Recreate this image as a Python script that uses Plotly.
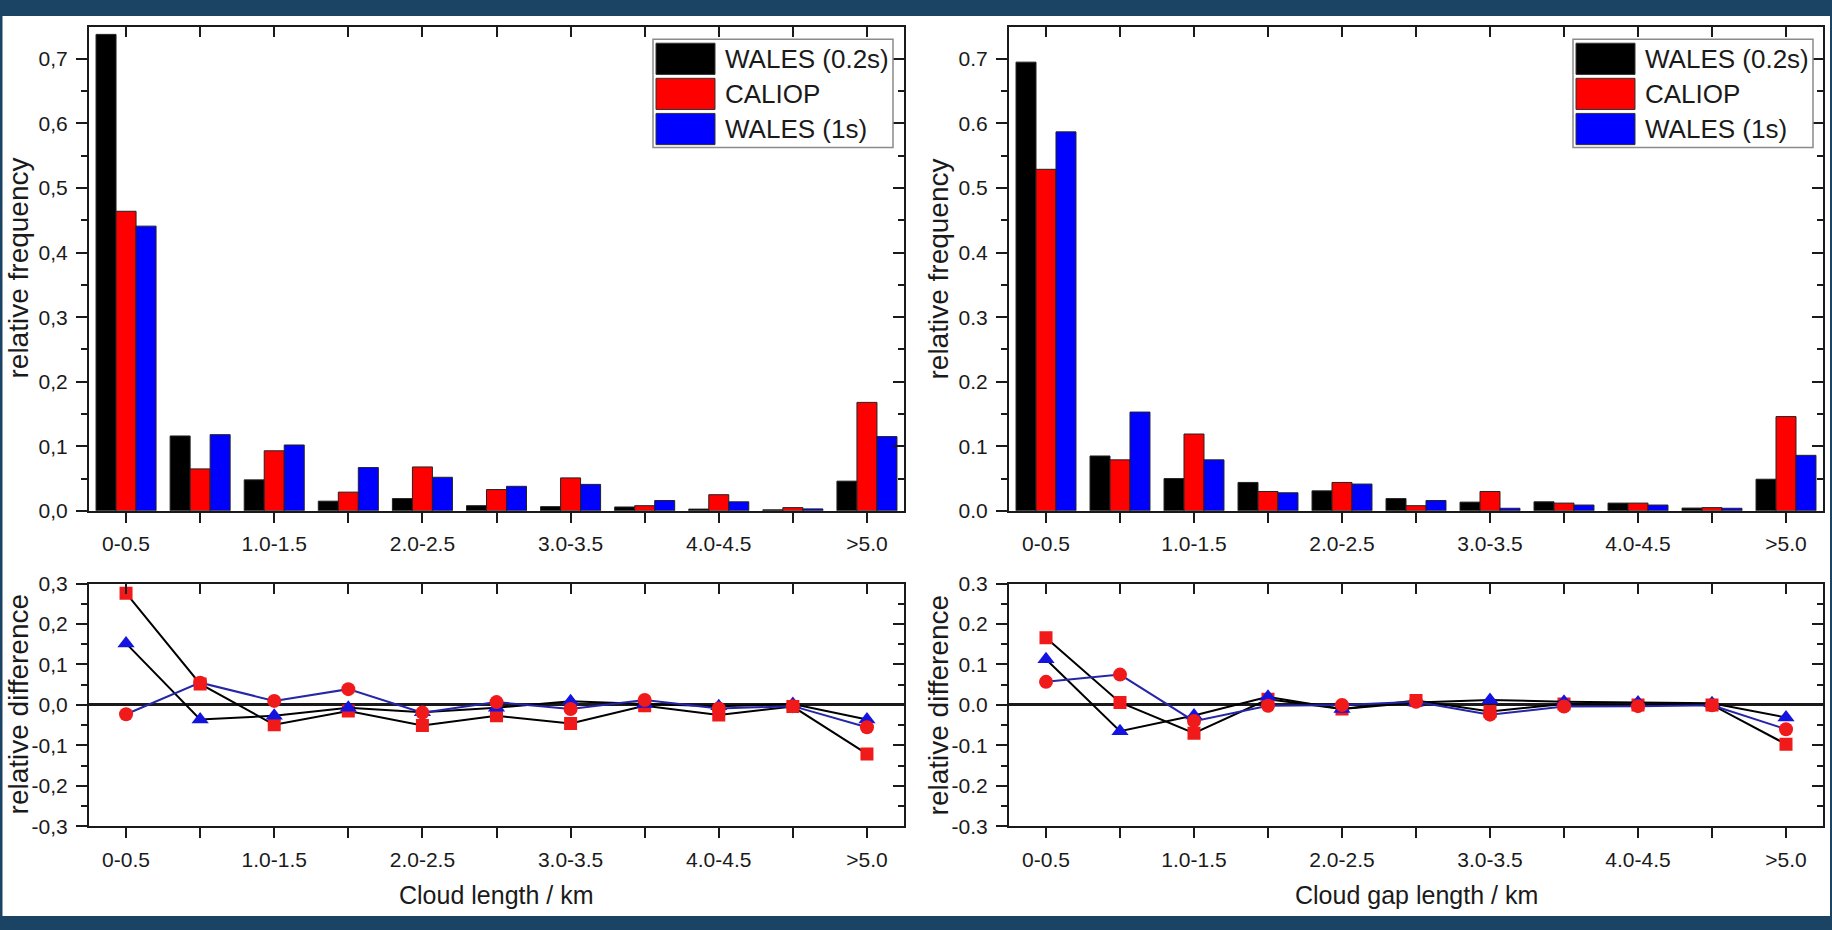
import plotly.graph_objects as go

W, H = 1832, 930
FONT = "Liberation Sans, Arial, sans-serif"
INK = "#1a1a1a"

categories = ["0-0.5", "0.5-1.0", "1.0-1.5", "1.5-2.0", "2.0-2.5", "2.5-3.0",
              "3.0-3.5", "3.5-4.0", "4.0-4.5", "4.5-5.0", ">5.0"]
cat_labels = ["0-0.5", "", "1.0-1.5", "", "2.0-2.5", "", "3.0-3.5", "", "4.0-4.5", "", ">5.0"]

series_names = ["WALES (0.2s)", "CALIOP", "WALES (1s)"]
series_colors = ["#000000", "#ff0000", "#0000ff"]

# relative frequency of cloud lengths
len_wales02 = [0.738, 0.116, 0.048, 0.015, 0.019, 0.008, 0.0065, 0.006, 0.0027, 0.0016, 0.046]
len_caliop = [0.464, 0.065, 0.093, 0.029, 0.068, 0.033, 0.051, 0.008, 0.025, 0.005, 0.168]
len_wales1 = [0.441, 0.118, 0.102, 0.067, 0.052, 0.038, 0.041, 0.016, 0.014, 0.003, 0.115]

# relative frequency of cloud gap lengths
gap_wales02 = [0.695, 0.085, 0.050, 0.044, 0.031, 0.019, 0.0135, 0.014, 0.012, 0.0043, 0.049]
gap_caliop = [0.529, 0.079, 0.119, 0.030, 0.044, 0.008, 0.030, 0.012, 0.012, 0.005, 0.146]
gap_wales1 = [0.587, 0.153, 0.079, 0.028, 0.0415, 0.016, 0.004, 0.009, 0.009, 0.004, 0.086]

# relative differences (squares, triangles, circles)
len_diff_sq = [0.276, 0.052, -0.049, -0.015, -0.051, -0.027, -0.046, -0.002, -0.025, -0.004, -0.121]
len_diff_tri = [0.152, -0.036, -0.027, -0.007, -0.018, -0.007, 0.009, 0.002, -0.003, 0.002, -0.036]
len_diff_circ = [-0.023, 0.055, 0.010, 0.039, -0.019, 0.007, -0.010, 0.012, -0.009, -0.003, -0.055]

gap_diff_sq = [0.166, 0.006, -0.070, 0.014, -0.010, 0.011, -0.016, 0.002, 0.000, 0.000, -0.097]
gap_diff_tri = [0.113, -0.065, -0.026, 0.020, -0.010, 0.006, 0.012, 0.008, 0.006, 0.004, -0.031]
gap_diff_circ = [0.057, 0.075, -0.040, -0.002, 0.000, 0.008, -0.024, -0.004, -0.003, -0.001, -0.060]

freq_ticks = [0.0, 0.1, 0.2, 0.3, 0.4, 0.5, 0.6, 0.7]
diff_ticks = [-0.3, -0.2, -0.1, 0.0, 0.1, 0.2, 0.3]


def px_x(x):
    return x / W


def px_y(y):
    return 1 - y / H


XL = [px_x(89), px_x(904)]
XR = [px_x(1009), px_x(1823)]
YU = [px_y(511.5), px_y(15)]
YD = [px_y(835), px_y(586)]

fig = go.Figure()

# histogram bars
for xa, ya, data in [("x", "y", [len_wales02, len_caliop, len_wales1]),
                     ("x2", "y2", [gap_wales02, gap_caliop, gap_wales1])]:
    for name, color, vals in zip(series_names, series_colors, data):
        fig.add_trace(go.Bar(
            x=categories, y=vals, name=name, xaxis=xa, yaxis=ya, showlegend=False,
            marker=dict(color=color, line=dict(color="#222222", width=1)),
        ))

# difference curves
diff_styles = [
    (dict(symbol="square", color="#f01a1a", size=13), "#000000"),
    (dict(symbol="triangle-up", color="#1414e0", size=15), "#000000"),
    (dict(symbol="circle", color="#f01a1a", size=14), "#2626a8"),
]
for xa, ya, data in [("x3", "y3", [len_diff_sq, len_diff_tri, len_diff_circ]),
                     ("x4", "y4", [gap_diff_sq, gap_diff_tri, gap_diff_circ])]:
    for (mk, lc), vals in zip(diff_styles, data):
        fig.add_trace(go.Scatter(
            x=categories, y=vals, mode="lines+markers", xaxis=xa, yaxis=ya, showlegend=False,
            marker=dict(symbol=mk["symbol"], color=mk["color"], size=mk["size"], line=dict(width=0)),
            line=dict(color=lc, width=2),
        ))

tickfont = dict(family=FONT, size=21, color=INK)
base = dict(showline=True, linewidth=2, linecolor=INK, showgrid=False, zeroline=False,
            tickwidth=2, tickcolor=INK, tickfont=tickfont)


def cat_axis(domain, anchor):
    return dict(base, domain=domain, anchor=anchor, type="category",
                categoryorder="array", categoryarray=categories, range=[-0.5, 10.5],
                tickmode="array", tickvals=categories, ticktext=cat_labels,
                ticks="outside", ticklen=10, ticklabelstandoff=3)


def top_axis(over, anchor):
    return dict(base, overlaying=over, anchor=anchor, side="top", type="linear",
                range=[-0.5, 10.5], tickmode="array", tickvals=list(range(11)),
                ticks="inside", ticklen=10, showticklabels=False)


def val_axis(domain, anchor, rng, vals, comma, minor_vals):
    text = [(f"{v:.1f}".replace(".", ",") if comma else f"{v:.1f}") for v in vals]
    return dict(base, domain=domain, anchor=anchor, range=rng, tickmode="array",
                tickvals=vals, ticktext=text, ticks="outside", ticklen=11,
                ticklabelstandoff=4,
                minor=dict(tickvals=minor_vals, ticks="outside", ticklen=6,
                           tickwidth=2, tickcolor=INK))


def right_axis(over, anchor, rng, vals, minor_vals):
    return dict(base, overlaying=over, anchor=anchor, side="right", range=rng,
                tickmode="array", tickvals=vals, ticks="inside", ticklen=11,
                showticklabels=False,
                minor=dict(tickvals=minor_vals, ticks="inside", ticklen=6,
                           tickwidth=2, tickcolor=INK))


freq_minor = [0.05, 0.15, 0.25, 0.35, 0.45, 0.55, 0.65]
diff_minor = [-0.25, -0.15, -0.05, 0.05, 0.15, 0.25]
FR = [0, 0.75]
DR = [-0.3, 0.3]

fig.update_layout(
    xaxis=cat_axis(XL, "y"),
    yaxis=val_axis(YU, "x", FR, freq_ticks, True, freq_minor),
    xaxis2=cat_axis(XR, "y2"),
    yaxis2=val_axis(YU, "x2", FR, freq_ticks, False, freq_minor),
    xaxis3=cat_axis(XL, "y3"),
    yaxis3=dict(val_axis(YD, "x3", DR, diff_ticks, True, diff_minor),
                zeroline=True, zerolinecolor=INK, zerolinewidth=2.5),
    xaxis4=cat_axis(XR, "y4"),
    yaxis4=dict(val_axis(YD, "x4", DR, diff_ticks, False, diff_minor),
                zeroline=True, zerolinecolor=INK, zerolinewidth=2.5),
    xaxis5=top_axis("x", "y"),
    yaxis5=right_axis("y", "x", FR, freq_ticks, freq_minor),
    xaxis6=top_axis("x2", "y2"),
    yaxis6=right_axis("y2", "x2", FR, freq_ticks, freq_minor),
    xaxis7=top_axis("x3", "y3"),
    yaxis7=right_axis("y3", "x3", DR, diff_ticks, diff_minor),
    xaxis8=top_axis("x4", "y4"),
    yaxis8=right_axis("y4", "x4", DR, diff_ticks, diff_minor),
)

# empty traces so the mirrored frame axes are drawn
for xa, ya in [("x5", "y"), ("x", "y5"), ("x6", "y2"), ("x2", "y6"),
               ("x7", "y3"), ("x3", "y7"), ("x8", "y4"), ("x4", "y8")]:
    fig.add_trace(go.Scatter(x=[], y=[], xaxis=xa, yaxis=ya, showlegend=False,
                             hoverinfo="skip"))

shapes = [
    dict(type="rect", xref="paper", yref="paper", layer="below",
         x0=px_x(2.5), x1=px_x(1830), y0=px_y(927), y1=px_y(4),
         fillcolor="white", line=dict(width=0)),
]
annotations = []

# legend boxes
for dx in (0, 920):
    shapes.append(dict(type="rect", xref="paper", yref="paper",
                       x0=px_x(653 + dx), x1=px_x(893 + dx), y0=px_y(139), y1=px_y(28),
                       fillcolor="white", line=dict(color="#8a8a8a", width=1.5)))
    rows = [(32, 64), (68, 100), (104, 136)]
    for (t, b), name, color in zip(rows, series_names, series_colors):
        shapes.append(dict(type="rect", xref="paper", yref="paper",
                           x0=px_x(656 + dx), x1=px_x(715 + dx), y0=px_y(b), y1=px_y(t),
                           fillcolor=color, line=dict(color="#333333", width=1)))
        annotations.append(dict(xref="paper", yref="paper", x=px_x(723 + dx),
                                y=px_y((t + b) / 2), xanchor="left", yanchor="middle",
                                text=name, showarrow=False,
                                font=dict(family=FONT, size=26, color=INK)))

title_font = dict(family=FONT, size=28, color=INK)
for dx in (0, 920):
    annotations.append(dict(xref="paper", yref="paper", x=px_x(18 + dx), y=px_y(263),
                            text="relative frequency", textangle=-90, showarrow=False,
                            xanchor="center", yanchor="middle", font=title_font))
    annotations.append(dict(xref="paper", yref="paper", x=px_x(18 + dx), y=px_y(710),
                            text="relative difference", textangle=-90, showarrow=False,
                            xanchor="center", yanchor="middle", font=title_font))

xt_font = dict(family=FONT, size=25, color=INK)
annotations.append(dict(xref="paper", yref="paper", x=px_x(496.5), y=px_y(905),
                        text="Cloud length / km", showarrow=False,
                        xanchor="center", yanchor="middle", font=xt_font))
annotations.append(dict(xref="paper", yref="paper", x=px_x(1416), y=px_y(905),
                        text="Cloud gap length / km", showarrow=False,
                        xanchor="center", yanchor="middle", font=xt_font))

fig.update_layout(
    width=W, height=H, margin=dict(l=0, r=0, t=0, b=0),
    paper_bgcolor="#1b4464", plot_bgcolor="white",
    barmode="group", bargap=0.19, bargroupgap=0,
    showlegend=False, shapes=shapes, annotations=annotations,
)

fig.write_html("out.html")
